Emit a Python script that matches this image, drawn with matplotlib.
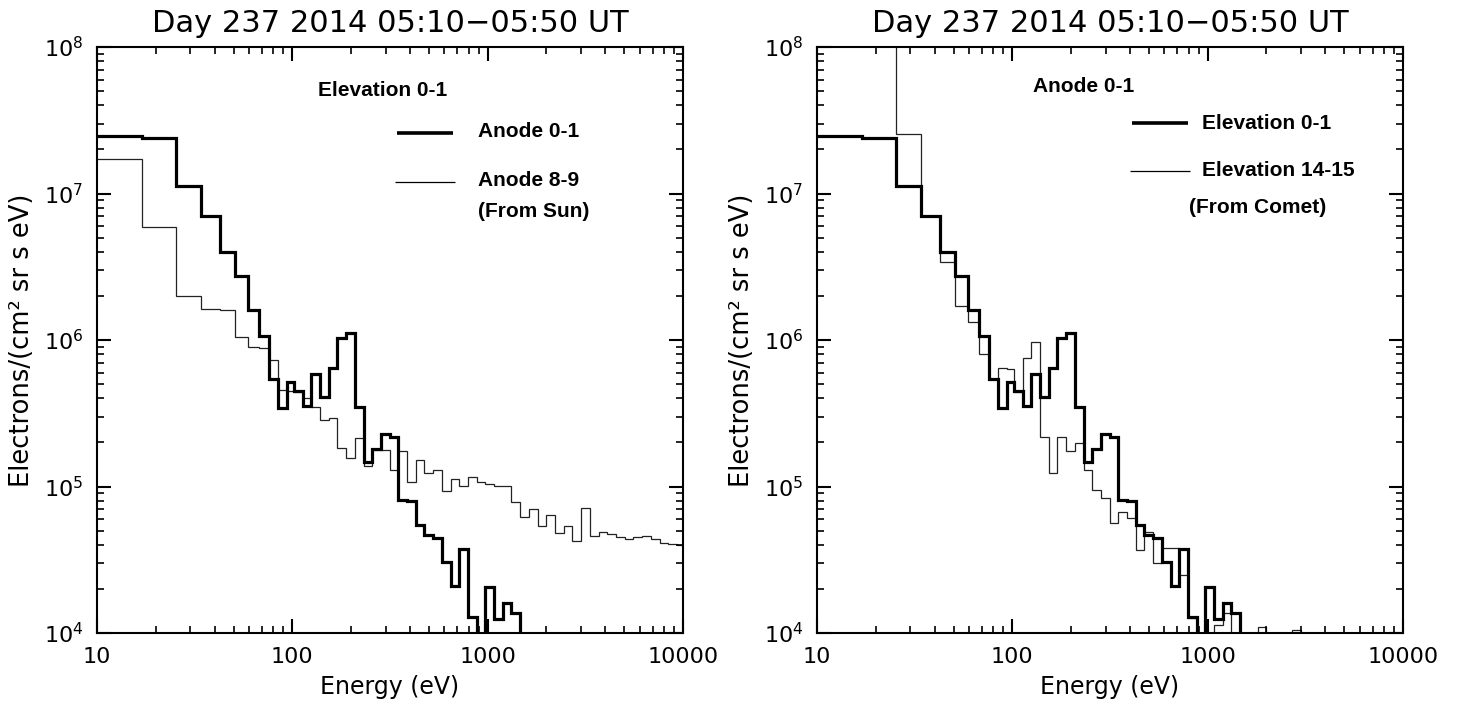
import numpy as np
import matplotlib.pyplot as plt
from matplotlib import ticker

# energy bin edges (eV), shared by both panels
edges = [8.4, 16.9, 25.4, 33.9, 42.4, 50.9, 59.4, 67.9, 76.4, 84.9, 93.4, 101.9,
         112.9, 125.1, 138.6, 153.6, 170.2, 188.6, 209, 231.5, 256.5, 284.2, 315,
         349, 386.7, 428.5, 474.8, 526, 583, 646, 716, 793, 879, 974, 1079, 1195,
         1324, 1467, 1626, 1802, 1997, 2213, 2452, 2717, 3011, 3337, 3698, 4098,
         4541, 5032, 5576, 6179, 6847, 7587, 8407, 9316, 10323]

# Elevation 0-1, Anode 0-1 (thick line in both panels)
anode01 = [2.48e7, 2.4e7, 1.12e7, 7.0e6, 4.0e6, 2.73e6, 1.6e6, 1.07e6, 5.4e5, 3.42e5,
           5.2e5, 4.49e5, 3.54e5, 5.86e5, 4.06e5, 6.41e5, 1.03e6, 1.12e6, 3.51e5,
           1.48e5, 1.79e5, 2.28e5, 2.17e5, 8.1e4, 8.0e4, 5.5e4, 4.65e4, 4.43e4,
           3.07e4, 2.1e4, 3.72e4, 1.29e4, 8e3, 2.07e4, 1.24e4, 1.6e4, 1.36e4, 5e3]

# Elevation 0-1, Anode 8-9 (from Sun)
anode89 = [1.72e7, 5.93e6, 2.0e6, 1.64e6, 1.59e6, 1.05e6, 8.9e5, 8.8e5, 7.3e5, 4.56e5,
           4.5e5, 4.44e5, 4.0e5, 3.47e5, 2.85e5, 2.95e5, 1.84e5, 1.57e5, 2.13e5,
           1.37e5, 1.78e5, 1.77e5, 1.30e5, 1.75e5, 1.08e5, 1.52e5, 1.23e5, 1.30e5,
           9.3e4, 1.12e5, 1.01e5, 1.17e5, 1.08e5, 1.04e5, 1.01e5, 1.01e5, 7.87e4,
           6.16e4, 6.99e4, 5.40e4, 6.38e4, 4.79e4, 5.37e4, 4.25e4, 7.1e4, 4.59e4,
           4.86e4, 4.72e4, 4.54e4, 4.41e4, 4.50e4, 4.61e4, 4.38e4, 4.13e4, 4.05e4,
           3.98e4]

# Anode 0-1, Elevation 14-15 (from Comet)
elev1415 = [3e8, 3e8, 2.55e7, 7.0e6, 3.43e6, 1.71e6, 1.33e6, 8.0e5, 5.4e5, 6.47e5,
            6.34e5, 4.4e5, 7.5e5, 9.75e5, 2.17e5, 1.24e5, 2.17e5, 1.74e5, 1.98e5,
            1.30e5, 9.5e4, 8.3e4, 5.66e4, 6.73e4, 6.07e4, 3.69e4, 4.92e4, 2.99e4,
            3.8e4, 3.78e4, 2.49e4, 1.27e4, 8e3, 9e3, 1.14e4, 1.36e4, 8e3, 8e3, 8e3,
            1.1e4, 8e3, 8e3, 8e3, 1.05e4, 8e3]

title = "Day 237 2014 05:10\u221205:50 UT"
LEG = dict(fontsize=15, fontweight="bold", family="Liberation Sans", va="center")


def style_axes(ax):
    ax.set_xscale("log")
    ax.set_yscale("log")
    ax.set_xlim(10, 10000)
    ax.set_ylim(1e4, 1e8)
    ax.xaxis.set_major_formatter(ticker.FuncFormatter(lambda v, p: f"{v:g}"))
    ax.tick_params(which="both", direction="in", top=True, right=True, labelsize=16)
    ax.tick_params(which="major", length=10, width=1.5, pad=10)
    ax.tick_params(which="minor", length=5, width=1.2)
    for s in ax.spines.values():
        s.set_linewidth(1.5)
    ax.set_xlabel("Energy (eV)", fontsize=17, labelpad=6)
    ax.set_ylabel("Electrons/(cm\u00b2 sr s eV)", fontsize=18.5, labelpad=6)
    ax.set_title(title, fontsize=22, pad=11)


def legend_text(ax, x, y, s):
    ax.text(x, y, s, transform=ax.transAxes, **LEG)


def legend_line(ax, x0, x1, y, lw):
    ax.plot([x0, x1], [y, y], color="black", lw=lw, transform=ax.transAxes,
            solid_capstyle="butt")


fig = plt.figure(figsize=(14.6, 7.11), dpi=100)
ax1 = fig.add_axes([97 / 1460, 78 / 711, 586 / 1460, 586 / 711])
ax2 = fig.add_axes([817 / 1460, 78 / 711, 586 / 1460, 586 / 711])

# left panel
ax1.stairs(anode89, edges[:len(anode89) + 1], baseline=None, color="#222222", lw=0.9)
ax1.stairs(anode01, edges[:len(anode01) + 1], baseline=None, color="black", lw=2.3)
style_axes(ax1)
legend_text(ax1, 0.377, 0.926, "Elevation 0-1")
legend_line(ax1, 0.512, 0.608, 0.854, 2.6)
legend_text(ax1, 0.650, 0.856, "Anode 0-1")
legend_line(ax1, 0.509, 0.611, 0.770, 0.9)
legend_text(ax1, 0.650, 0.772, "Anode 8-9")
legend_text(ax1, 0.651, 0.720, "(From Sun)")

# right panel
ax2.stairs(elev1415, edges[:len(elev1415) + 1], baseline=None, color="#222222", lw=0.9)
ax2.stairs(anode01, edges[:len(anode01) + 1], baseline=None, color="black", lw=2.3)
style_axes(ax2)
legend_text(ax2, 0.369, 0.932, "Anode 0-1")
legend_line(ax2, 0.538, 0.633, 0.871, 2.6)
legend_text(ax2, 0.657, 0.870, "Elevation 0-1")
legend_line(ax2, 0.534, 0.637, 0.789, 0.9)
legend_text(ax2, 0.657, 0.790, "Elevation 14-15")
legend_text(ax2, 0.635, 0.726, "(From Comet)")

fig.savefig("out.png", dpi=100)
